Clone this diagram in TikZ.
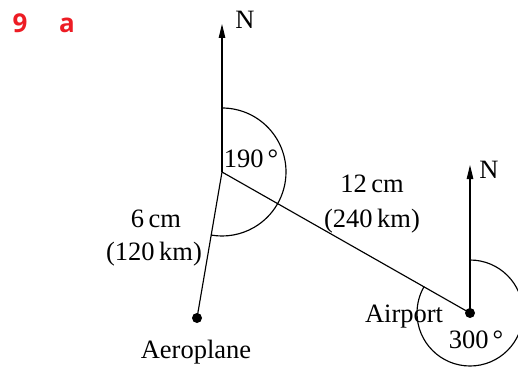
\documentclass[tikz,border=0pt]{standalone}
\usepackage{fontspec}
\setmainfont{Liberation Serif}
\newfontfamily\labelfont{Open Sans}
\usetikzlibrary{arrows.meta}
\definecolor{qred}{RGB}{237,28,36}
\begin{document}
\begin{tikzpicture}[x=1pt,y=1pt,
  line/.style={line width=1.15pt},
  northarrow/.style={line width=1.15pt,-{Triangle[length=14pt,width=6.5pt]}},
  txt/.style={font=\fontsize{26.5}{30}\selectfont, anchor=base, inner sep=0pt},
  qlabel/.style={font=\labelfont\bfseries\fontsize{26}{30}\selectfont, text=qred, anchor=base, inner sep=0pt},
  dot/.style={circle, fill, inner sep=0pt, minimum size=10pt}]
\useasboundingbox (0,0) rectangle (518,367);
\clip (0,0) rectangle (518,367);
\coordinate (A) at (222,195);
\coordinate (NA) at (222,343);
\node[dot] (P) at (197,49) {};
\node[dot] (B) at (470,54) {};
\coordinate (NB) at (470,202);
% connectors
\draw[line] (A) -- (P.center);
\draw[line] (A) -- (B.center);
\draw[northarrow] (A) -- (NA);
\draw[northarrow] (B.center) -- (NB);
% angle arcs
\draw[line] (A) ++(0,64) arc[start angle=90,end angle=-100,radius=64];
\draw[line] (B.center) ++(0,53) arc[start angle=90,end angle=-210,radius=53];
% texts
\node[txt] (n1) at (245,338) {N};
\node[txt] (n2) at (489,189) {N};
\node[txt] (ang1) at (251,200) {190\kern4pt°};
\node[txt] (ang2) at (476,19) {300\kern4pt°};
\node[txt] (d1a) at (372,175) {12\,cm};
\node[txt] (d1b) at (372,140) {(240\,km)};
\node[txt] (d2a) at (156,140) {6\,cm};
\node[txt] (d2b) at (154,107) {(120\,km)};
\node[txt] (lp) at (196,9) {Aeroplane};
\node[txt] (lb) at (404,45) {Airport};
\node[qlabel] (q9) at (20,334) {9};
\node[qlabel] (qa) at (67,334) {a};
\end{tikzpicture}
\end{document}
